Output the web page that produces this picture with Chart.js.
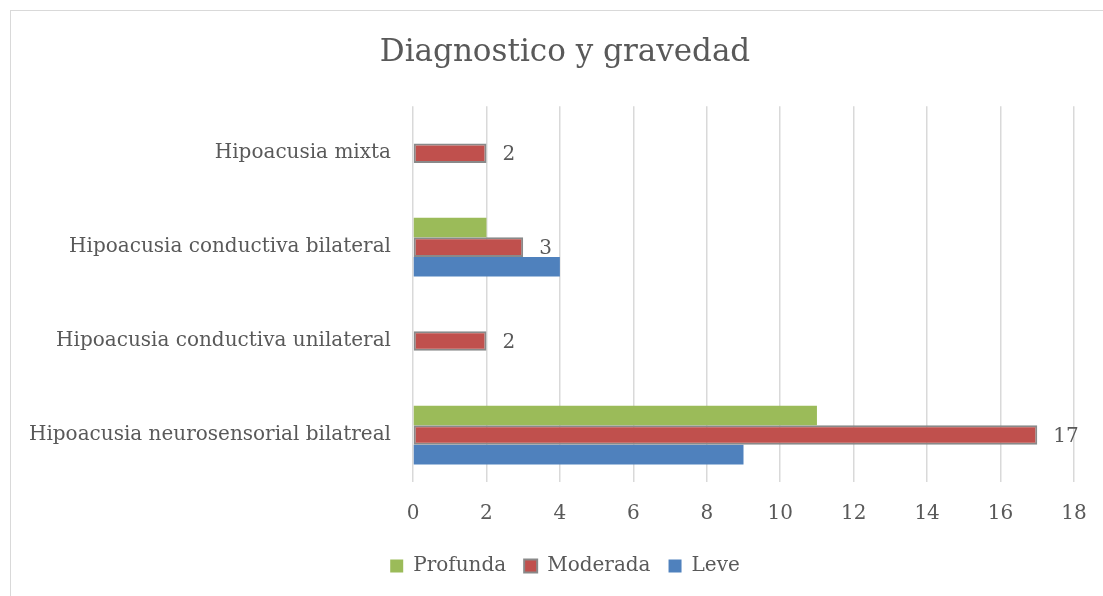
<!DOCTYPE html>
<html>
<head>
<meta charset="utf-8">
<script src="https://cdn.jsdelivr.net/npm/chart.js@4.4.0/dist/chart.umd.min.js"></script>
<style>
  html, body { margin: 0; padding: 0; background: #fff; overflow: hidden; }
  #frame { position: absolute; left: 10px; top: 10px; width: 1108px; height: 600px; border: 1px solid #d9d9d9; }
</style>
</head>
<body>
<div id="frame"><canvas id="chart"></canvas></div>
<script>
const categories = [
  'Hipoacusia mixta',
  'Hipoacusia conductiva bilateral',
  'Hipoacusia conductiva unilateral',
  'Hipoacusia neurosensorial bilatreal'
];
const profunda = [null, 2, null, 11];
const moderada = [2, 3, 2, 17];
const leve = [null, 4, null, 9];
const xMax = 18;
const xStep = 2;

const textColor = '#595959';
const serif = 'DejaVu Serif';

// value labels, only for the Moderada series
const valueLabels = {
  id: 'valueLabels',
  afterDatasetsDraw(chart) {
    const ctx = chart.ctx;
    chart.data.datasets.forEach((ds, i) => {
      if (!ds.showValues) return;
      chart.getDatasetMeta(i).data.forEach((bar, j) => {
        const v = ds.data[j];
        if (v == null) return;
        ctx.save();
        ctx.font = '20px "' + serif + '"';
        ctx.fillStyle = textColor;
        ctx.textAlign = 'left';
        ctx.textBaseline = 'middle';
        ctx.fillText(String(v), bar.x + 16, bar.y + 2);
        ctx.restore();
      });
    });
  }
};

new Chart(document.getElementById('chart'), {
  type: 'bar',
  data: {
    labels: categories,
    datasets: [
      { label: 'Profunda', data: profunda, backgroundColor: '#9bbb59', borderWidth: 0 },
      { label: 'Moderada', data: moderada, backgroundColor: '#c0504d', borderColor: '#898989',
        borderWidth: 2, borderSkipped: false, showValues: true },
      { label: 'Leve', data: leve, backgroundColor: '#4f81bd', borderWidth: 0 }
    ]
  },
  options: {
    indexAxis: 'y',
    responsive: true,
    maintainAspectRatio: false,
    animation: false,
    datasets: { bar: { categoryPercentage: 0.625, barPercentage: 1 } },
    layout: { padding: { left: 0, right: 0, top: 0, bottom: 25 } },
    plugins: {
      title: {
        display: true,
        text: 'Diagnostico y gravedad',
        color: textColor,
        font: { family: serif, size: 31, weight: 'normal' },
        padding: { top: 23, bottom: 35 }
      },
      legend: {
        position: 'bottom',
        labels: {
          color: textColor,
          font: { family: serif, size: 20 },
          boxWidth: 13,
          boxHeight: 13,
          padding: 18
        }
      },
      tooltip: { enabled: false }
    },
    scales: {
      x: {
        min: 0,
        max: xMax,
        ticks: { stepSize: xStep, color: textColor, font: { family: serif, size: 20 }, padding: 20 },
        grid: { color: '#d9d9d9', lineWidth: 1.5, drawTicks: false },
        border: { display: false },
        afterFit(scale) { scale.height -= 8; }
      },
      y: {
        ticks: { color: textColor, font: { family: serif, size: 20 }, padding: 22 },
        grid: { display: false, drawTicks: false },
        border: { display: false },
        afterFit(scale) { scale.width = 402; }
      },
      // empty right-hand spacer so the plot ends before the frame edge
      spacer: {
        type: 'category',
        axis: 'y',
        position: 'right',
        ticks: { display: false },
        grid: { display: false, drawTicks: false },
        border: { display: false },
        afterFit(scale) { scale.width = 45; }
      }
    }
  },
  plugins: [valueLabels]
});
</script>
</body>
</html>
